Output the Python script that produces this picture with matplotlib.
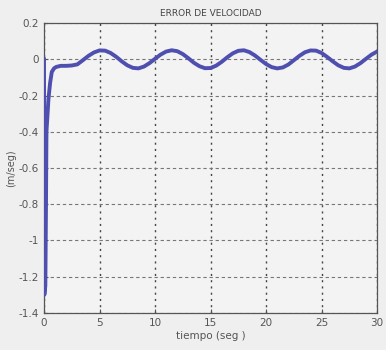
import matplotlib
matplotlib.use('Agg')
import matplotlib.pyplot as plt

# time (s) and velocity error (m/s)
t = [0.0, 0.03, 0.12, 0.18, 0.22, 0.4, 0.55, 0.7, 0.9, 1.1, 1.5, 2.0, 2.5, 3.0, 3.5,
     4.0, 4.5, 5.0, 5.5, 6.0, 6.5, 7.0, 7.5, 8.0, 8.5, 9.0, 9.5, 10.0, 10.5, 11.0,
     11.5, 12.0, 12.5, 13.0, 13.5, 14.0, 14.5, 15.0, 15.5, 16.0, 16.5, 17.0, 17.5,
     18.0, 18.5, 19.0, 19.5, 20.0, 20.5, 21.0, 21.5, 22.0, 22.5, 23.0, 23.5,
     24.0, 24.5, 25.0, 25.5, 26.0, 26.5, 27.0, 27.5, 28.0, 28.5, 29.0, 29.5, 30.0]
err = [0.0, -1.30, -1.25, -0.80, -0.40, -0.22, -0.13, -0.07, -0.05, -0.042, -0.036,
       -0.036, -0.034, -0.028, -0.005, 0.019, 0.038, 0.049, 0.048, 0.035, 0.014,
       -0.011, -0.033, -0.047, -0.050, -0.040, -0.021, 0.003, 0.026, 0.043, 0.050,
       0.045, 0.029, 0.006, -0.019, -0.038, -0.049, -0.048, -0.035, -0.014, 0.011,
       0.033, 0.047, 0.050, 0.040, 0.021, -0.003, -0.026, -0.043, -0.050, -0.045,
       -0.029, -0.005, 0.019, 0.039, 0.049, 0.048, 0.035, 0.013, -0.011, -0.033,
       -0.047, -0.050, -0.040, -0.021, 0.003, 0.026, 0.043]

xticks = [0, 5, 10, 15, 20, 25, 30]
yticks = [0.2, 0, -0.2, -0.4, -0.6, -0.8, -1, -1.2, -1.4]
ytick_labels = ['0.2', '0', '-0.2', '-0.4', '-0.6', '-0.8', '-1', '-1.2', '-1.4']

fig = plt.figure(figsize=(3.86, 3.5), dpi=100, facecolor='#efefef')
ax = fig.add_axes([0.114, 0.106, 0.863, 0.828])
ax.set_facecolor('#f3f3f3')

ax.plot(t, err, color='#4f4fb0', lw=2.8, solid_joinstyle='round', zorder=3)

ax.set_xlim(0, 30)
ax.set_ylim(-1.4, 0.2)
ax.set_xticks(xticks)
ax.set_yticks(yticks)
ax.set_yticklabels(ytick_labels)
ax.tick_params(labelsize=7.5, colors='#555555', length=3, direction='in')

ax.xaxis.grid(True, linestyle=(0, (1.5, 3)), color='#444444', lw=1.0)
ax.yaxis.grid(True, linestyle=(0, (3, 2.5)), color='#777777', lw=0.8)
for s in ax.spines.values():
    s.set_color('#555555')
    s.set_linewidth(0.9)

ax.set_title('ERROR DE VELOCIDAD', fontsize=6.5, color='#444444', pad=5)
ax.set_xlabel('tiempo (seg )', fontsize=7.5, color='#555555', labelpad=2)
ax.set_ylabel('(m/seg)', fontsize=7, color='#555555')
ax.yaxis.set_label_coords(-0.085, 0.5)

fig.savefig('out.png', dpi=100, facecolor=fig.get_facecolor())
